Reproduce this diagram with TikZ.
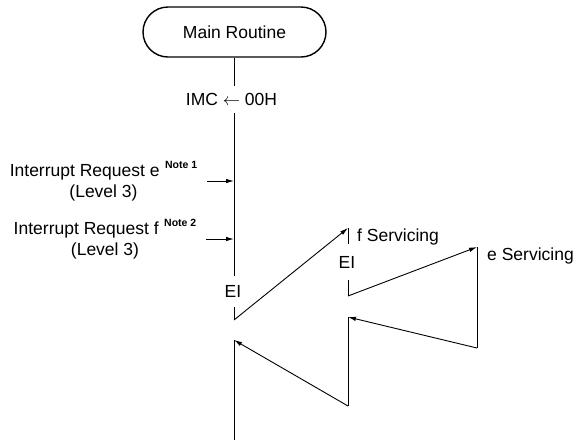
\documentclass[tikz,border=0pt]{standalone}
\usepackage{fontspec}
\setmainfont{Liberation Sans}
\usetikzlibrary{arrows.meta, positioning, calc}

\newcommand{\notemark}[1]{\kern5.5pt\raisebox{7.5pt}{\fontsize{10.5}{12}\selectfont\bfseries Note #1}}

\begin{document}
\begin{tikzpicture}[x=1pt, y=-1pt,
  flow/.style={line width=0.9pt},
  arr/.style={flow, -{Latex[length=8pt,width=4.5pt]}},
  lbl/.style={font=\fontsize{17.5}{21}\selectfont, inner sep=0pt}]
  \useasboundingbox (0,0) rectangle (574,440);
  % Main routine
  \node[lbl, draw, line width=1.4pt, rounded corners=25pt,
        minimum width=183pt, minimum height=50pt] (main)
        at (234.5,32) {Main Routine};
  \node[lbl, inner ysep=7pt] (imc) at (231.5,99.5) {IMC $\leftarrow$ 00H};
  \node[lbl, inner ysep=9.5pt] (ei1) at (233,291.5) {EI};
  % Interrupt requests
  \node[lbl, align=center] (irqe) at (103.5,181)
        {Interrupt Request e\notemark{1}\\(Level 3)};
  \node[lbl, align=center] (irqf) at (105,239.3)
        {Interrupt Request f\notemark{2}\\(Level 3)};
  \coordinate (ine) at (234,181);
  \coordinate (inf) at (234,239);
  % Servicing
  \node[lbl, inner ysep=12pt] (ei2) at (347,262) {EI};
  \node[lbl, anchor=base west] (fsrv) at (357,241) {f Servicing};
  \node[lbl, anchor=base west] (esrv) at (487,260) {e Servicing};
  % Turning points
  \coordinate (m1) at (234,320);
  \coordinate (f0) at (348,228);
  \coordinate (f1) at (348,296);
  \coordinate (e0) at (477,247);
  \coordinate (e1) at (477,348);
  \coordinate (f2) at (348,317);
  \coordinate (f3) at (348,406);
  \coordinate (m2) at (234,340);
  \coordinate (m3) at (234,440);
  % Flow
  \draw[flow] (main.south -| m1) -- (imc.north -| m1);
  \draw[flow] (imc.south -| m1) -- (ei1.north -| m1);
  \draw[flow] (ei1.south -| m1) -- (m1);
  \draw[arr, shorten <=10pt] (irqe.east |- ine) -- (ine);
  \draw[arr, shorten <=10pt] (irqf.east |- inf) -- (inf);
  \draw[arr] (m1) -- (f0);
  \draw[flow] (f0) -- (ei2.north -| f0);
  \draw[flow] (ei2.south -| f0) -- (f1);
  \draw[arr] (f1) -- (e0);
  \draw[flow] (e0) -- (e1);
  \draw[arr] (e1) -- (f2);
  \draw[flow] (f2) -- (f3);
  \draw[arr] (f3) -- (m2);
  \draw[flow] (m2) -- (m3);
\end{tikzpicture}
\end{document}
